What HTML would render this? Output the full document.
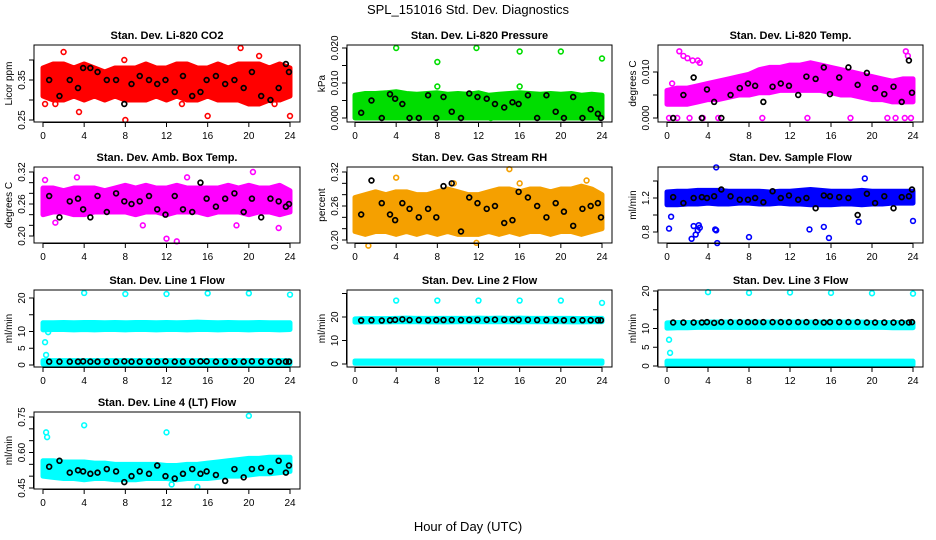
<!DOCTYPE html>
<html><head><meta charset="utf-8"><style>
html,body{margin:0;padding:0;background:#fff}
svg{display:block;font-family:"Liberation Sans",sans-serif}
</style></head><body>
<svg id="chart" width="936" height="540" viewBox="0 0 936 540">
<rect width="936" height="540" fill="#fff"/>
<text x="468" y="14" text-anchor="middle" font-size="13">SPL_151016  Std. Dev. Diagnostics</text>
<text x="468" y="531" text-anchor="middle" font-size="13">Hour of Day (UTC)</text>
</svg>
<script>
// ---------- data ----------
const hours = [0,1,2,3,4,5,6,7,8,9,10,11,12,13,14,15,16,17,18,19,20,21,22,23,24];
const blackX = [0.6,1.6,2.6,3.4,3.9,4.6,5.3,6.2,7.1,7.9,8.6,9.4,10.3,11.1,11.9,12.8,13.6,14.5,15.3,15.9,16.8,17.7,18.6,19.5,20.3,21.2,22.1,22.9,23.6,23.9];
const xTicks = [0,4,8,12,16,20,24];

const co2Lo = [0.31,0.30,0.30,0.31,0.30,0.31,0.30,0.31,0.30,0.30,0.30,0.31,0.30,0.31,0.30,0.30,0.31,0.30,0.30,0.30,0.29,0.29,0.30,0.30,0.31];
const co2Hi = [0.38,0.39,0.39,0.38,0.39,0.38,0.37,0.38,0.38,0.38,0.39,0.38,0.38,0.39,0.39,0.38,0.38,0.39,0.38,0.39,0.39,0.39,0.38,0.39,0.38];
const co2Black = [0.35,0.31,0.35,0.33,0.38,0.38,0.37,0.35,0.35,0.29,0.34,0.36,0.35,0.34,0.35,0.32,0.36,0.31,0.32,0.35,0.36,0.34,0.35,0.33,0.37,0.31,0.30,0.33,0.39,0.37];
const co2OutX = [2,8,3.5,16,24,21,19.2,0.2,7.9,1.2,13.5,22.5];
const co2OutY = [0.42,0.25,0.27,0.26,0.26,0.41,0.43,0.29,0.40,0.29,0.29,0.29];

const presLo = [0,0,0,0,0,0,0,0,0,0,0,0,0,0,0,0,0,0,0,0,0,0,0,0,0];
const presHi = [0.0065,0.007,0.007,0.0072,0.0075,0.007,0.0068,0.007,0.0072,0.0068,0.007,0.0068,0.0072,0.0065,0.0068,0.007,0.0072,0.007,0.0068,0.007,0.0068,0.007,0.0065,0.0068,0.0065];
const presBlack = [0.0015,0.005,0.0,0.0068,0.0055,0.004,0.0,0.0,0.0065,0.0,0.006,0.0018,0.0,0.007,0.006,0.0055,0.004,0.003,0.0045,0.004,0.0065,0.0,0.0065,0.0018,0.0,0.006,0.0,0.0025,0.0012,0.0];
const presOutX = [4,8,11.8,16,20,24,8,16,13.2];
const presOutY = [0.020,0.016,0.020,0.019,0.019,0.017,0.009,0.009,0.0];

const tempLo = [0.003,0.003,0.003,0.0035,0.004,0.004,0.0045,0.005,0.005,0.0055,0.0055,0.006,0.006,0.006,0.006,0.006,0.0055,0.005,0.005,0.0045,0.004,0.004,0.0035,0.0035,0.0035];
const tempHi = [0.006,0.0065,0.0065,0.007,0.0075,0.008,0.0085,0.009,0.0095,0.0105,0.011,0.011,0.0115,0.0115,0.012,0.0115,0.011,0.0105,0.01,0.0095,0.009,0.0085,0.008,0.0085,0.0085];
const tempBlack = [0.0,0.005,0.0088,0.0,0.0062,0.0035,0.0,0.005,0.0065,0.0075,0.007,0.0035,0.0068,0.0075,0.007,0.005,0.009,0.0085,0.011,0.0052,0.0088,0.011,0.0072,0.0098,0.0065,0.0052,0.0068,0.0035,0.0125,0.0055];
const tempOutX = [0.5,1.2,1.6,2.0,2.5,3.0,3.2,0.2,1.0,2.2,3.5,5.0,9.3,13.7,17.9,21.5,22.3,23.2,23.5,23.8,23.3];
const tempOutY = [0.0075,0.0145,0.0135,0.013,0.0125,0.0125,0.012,0.0,0.0,0.0,0.0,0.0,0.0,0.0,0.0,0.0,0.0,0.0,0.0135,0.0,0.0145];

const ambLo = [0.24,0.245,0.245,0.24,0.24,0.245,0.245,0.245,0.245,0.24,0.245,0.245,0.24,0.245,0.245,0.245,0.24,0.245,0.245,0.245,0.24,0.245,0.245,0.24,0.245];
const ambHi = [0.29,0.29,0.285,0.29,0.29,0.29,0.285,0.29,0.295,0.29,0.295,0.29,0.29,0.295,0.29,0.29,0.29,0.29,0.295,0.29,0.295,0.29,0.29,0.295,0.285];
const ambBlack = [0.275,0.235,0.265,0.27,0.25,0.235,0.275,0.245,0.28,0.265,0.26,0.265,0.275,0.25,0.24,0.275,0.25,0.245,0.3,0.27,0.255,0.27,0.28,0.245,0.27,0.235,0.27,0.265,0.255,0.26];
const ambOutX = [12,13,3.3,20.4,1.2,9.7,22.9,0.2,18.8,14.0];
const ambOutY = [0.195,0.19,0.31,0.32,0.225,0.22,0.215,0.305,0.22,0.31];

const rhLo = [0.215,0.21,0.215,0.215,0.21,0.215,0.21,0.215,0.21,0.215,0.21,0.21,0.21,0.215,0.21,0.215,0.21,0.215,0.215,0.21,0.215,0.215,0.21,0.215,0.22];
const rhHi = [0.275,0.28,0.285,0.28,0.285,0.285,0.28,0.28,0.285,0.29,0.285,0.28,0.28,0.285,0.29,0.29,0.285,0.29,0.29,0.285,0.29,0.29,0.295,0.29,0.28];
const rhBlack = [0.245,0.305,0.265,0.245,0.235,0.265,0.255,0.24,0.255,0.24,0.295,0.3,0.215,0.275,0.265,0.255,0.26,0.23,0.235,0.285,0.275,0.26,0.24,0.265,0.25,0.225,0.255,0.26,0.265,0.24];
const rhOutX = [4,15,11.8,16,22.5,1.3,9.6];
const rhOutY = [0.31,0.325,0.195,0.3,0.305,0.19,0.3];

const flowLo = [1.12,1.12,1.13,1.13,1.14,1.13,1.13,1.14,1.14,1.13,1.13,1.14,1.13,1.13,1.12,1.12,1.12,1.13,1.13,1.12,1.13,1.13,1.14,1.14,1.14];
const flowHi = [1.27,1.28,1.28,1.29,1.29,1.29,1.28,1.28,1.28,1.28,1.27,1.28,1.28,1.29,1.30,1.29,1.28,1.28,1.28,1.29,1.28,1.28,1.28,1.28,1.28];
const flowBlack = [1.21,1.14,1.2,1.21,1.2,1.22,1.3,1.22,1.18,1.18,1.2,1.15,1.28,1.2,1.23,1.18,1.2,1.08,1.23,1.22,1.21,1.2,1.0,1.25,1.14,1.22,1.08,1.21,1.22,1.3];
const flowOutX = [0.2,0.4,2.4,2.6,2.8,3.0,3.1,3.2,4.7,4.8,4.9,8.0,13.9,15.3,15.8,18.7,19.3,24,4.8];
const flowOutY = [0.84,0.98,0.72,0.87,0.77,0.82,0.88,0.85,0.83,0.82,0.67,0.74,0.83,0.86,0.73,0.92,1.43,0.93,1.56];

const l1Lo = [10.5,10.6,10.6,10.5,10.6,10.5,10.6,10.6,10.5,10.6,10.6,10.5,10.6,10.6,10.5,10.6,10.6,10.5,10.6,10.6,10.5,10.6,10.6,10.5,10.6];
const l1Hi = [12.6,12.6,12.7,12.6,12.7,12.7,12.6,12.7,12.6,12.7,12.7,12.6,12.7,12.6,12.7,12.8,12.7,12.6,12.7,12.6,12.6,12.7,12.6,12.6,12.6];
const l1Black = [1.0,1.0,1.0,1.0,1.1,1.0,1.0,1.0,1.0,1.1,1.0,1.0,1.0,1.0,1.1,1.0,1.0,1.0,1.1,1.1,1.0,1.0,1.0,1.0,1.1,1.0,1.0,1.0,1.0,1.0];
const l1OutX = [4,8,12,16,20,24,0.2,0.3,0.5,0.1];
const l1OutY = [21.5,21.2,21.2,21.4,21.4,21.0,6.8,3.0,9.8,11.0];

const l2Lo = [17.8,17.9,17.9,17.9,18.0,18.0,18.0,17.9,18.0,17.9,18.0,18.0,18.0,18.0,18.0,18.0,17.9,18.0,18.0,18.0,18.0,17.9,17.9,18.0,18.0];
const l2Hi = [19.2,19.3,19.3,19.3,19.4,19.5,19.4,19.4,19.4,19.4,19.4,19.4,19.5,19.4,19.5,19.4,19.5,19.4,19.4,19.4,19.4,19.4,19.3,19.4,19.4];
const l2Black = [18.5,18.6,18.5,18.6,18.8,19.0,18.7,18.7,18.6,18.7,18.7,18.7,18.7,18.8,18.8,18.8,18.9,18.8,18.8,18.8,18.8,18.7,18.7,18.6,18.6,18.7,18.6,18.6,18.6,18.6];
const l2OutX = [4,8,12,16,20,24];
const l2OutY = [27,27,27,27,27,26];

const l3Lo = [10.1,10.2,10.2,10.3,10.3,10.3,10.3,10.3,10.3,10.3,10.3,10.3,10.3,10.3,10.3,10.3,10.3,10.3,10.3,10.3,10.3,10.3,10.2,10.2,10.2];
const l3Hi = [11.5,11.6,11.6,11.6,11.7,11.7,11.7,11.7,11.7,11.7,11.7,11.7,11.7,11.7,11.7,11.7,11.7,11.7,11.7,11.7,11.6,11.6,11.6,11.6,11.6];
const l3Black = [11.6,11.6,11.6,11.6,11.7,11.5,11.7,11.7,11.7,11.7,11.7,11.7,11.7,11.7,11.7,11.7,11.7,11.7,11.6,11.7,11.7,11.7,11.7,11.6,11.6,11.6,11.6,11.6,11.6,11.7];
const l3OutX = [4,8,12,16,20,24,0.2,0.3,0.1];
const l3OutY = [19.7,19.5,19.6,19.5,19.4,19.3,7.0,3.5,10.3];

const l4Lo = [0.50,0.495,0.49,0.49,0.485,0.49,0.49,0.485,0.485,0.485,0.49,0.49,0.49,0.485,0.49,0.49,0.49,0.495,0.5,0.5,0.505,0.51,0.51,0.515,0.52];
const l4Hi = [0.565,0.565,0.56,0.56,0.56,0.555,0.555,0.55,0.55,0.55,0.55,0.55,0.545,0.545,0.55,0.55,0.555,0.56,0.565,0.57,0.575,0.575,0.58,0.58,0.58];
const l4Black = [0.54,0.565,0.515,0.525,0.52,0.51,0.515,0.53,0.52,0.475,0.5,0.52,0.51,0.545,0.5,0.49,0.51,0.53,0.51,0.52,0.505,0.48,0.53,0.495,0.53,0.535,0.52,0.565,0.515,0.545];
const l4OutX = [0.3,0.4,4,12,20,15,12.5];
const l4OutY = [0.685,0.665,0.715,0.685,0.755,0.455,0.465];

// ---------- drawing ----------
const NS = "http://www.w3.org/2000/svg";
const svg = document.getElementById("chart");
function mk(tag, attrs, parent){
  const e = document.createElementNS(NS, tag);
  for (const k in attrs) e.setAttribute(k, attrs[k]);
  (parent || svg).appendChild(e);
  return e;
}
function panel(p){
  const g = mk("g", {});
  
  
  const xs = h => p.x0 + (h/24)*(p.x24 - p.x0);
  const ys = v => p.yb + (v - p.vb)*(p.yt - p.yb)/(p.vt - p.vb);
  const t = mk("text", {x:(p.L+p.R)/2, y:p.T-6, "text-anchor":"middle", "font-size":"11", "font-weight":"bold"}, g);
  t.textContent = p.title;
  
  
  p.bands.forEach(b => {
    let pts = hours.map((h,i)=>xs(h)+","+ys(b.hi[i])).concat(hours.slice().reverse().map((h,j)=>xs(h)+","+ys(b.lo[hours.length-1-j])));
    const poly = mk("polygon", {points:pts.join(" "), fill:p.color, stroke:p.color, "stroke-width":"5", "stroke-linejoin":"round"}, g);
    
    
  });
  p.outX.forEach((x,i)=>{
    const c = mk("circle", {cx:xs(x), cy:ys(p.outY[i]), r:2.4, fill:"none", stroke:p.color, "stroke-width":"1.6"}, g);
    
    
  });
  blackX.forEach((x,i)=>{
    const c = mk("circle", {cx:xs(x), cy:ys(p.black[i]), r:2.4, fill:"none", stroke:"#000", "stroke-width":"1.7"}, g);
    
    
  });
  const bx = mk("rect", {x:p.L, y:p.T, width:p.R-p.L, height:p.B-p.T, fill:"none", stroke:"#000", "stroke-width":"1"}, g);
  
  
  mk("line", {x1:xs(0), x2:xs(24), y1:p.B+0.5, y2:p.B+0.5, stroke:"#000"}, g);
  xTicks.forEach(h=>{
    mk("line", {x1:xs(h), x2:xs(h), y1:p.B, y2:p.B+5, stroke:"#000"}, g);
    const tl = mk("text", {x:xs(h), y:p.B+17, "text-anchor":"middle", "font-size":"10"}, g);
    tl.textContent = h;
    
    
  });
  const y0 = ys(p.yticks[0]), y1 = ys(p.yticks[p.yticks.length-1]);
  mk("line", {x1:p.L-0.5, x2:p.L-0.5, y1:y0, y2:y1, stroke:"#000"}, g);
  p.yticks.forEach(v=>{
    mk("line", {x1:p.L-5, x2:p.L, y1:ys(v), y2:ys(v), stroke:"#000"}, g);
  });
  p.ylabels.forEach(v=>{
    const yy = ys(v);
    const tl = mk("text", {x:p.L-9, y:yy, "text-anchor":"middle", "font-size":"10", transform:`rotate(-90 ${p.L-9} ${yy})`}, g);
    tl.textContent = v.toFixed(p.dec);
    
    
  });
  const yt = mk("text", {x:p.L-22, y:(p.T+p.B)/2, "text-anchor":"middle", "font-size":"10", transform:`rotate(-90 ${p.L-22} ${(p.T+p.B)/2})`}, g);
  yt.textContent = p.ytitle;
  
  
}
const C1={L:34,R:300,x0:43,x24:290}, C2={L:347,R:612,x0:355,x24:602}, C3={L:658,R:923,x0:667,x24:913};
const R1={T:45,B:122}, R2={T:167,B:243}, R3={T:290,B:367}, R4={T:412,B:489};
const P = (c,r,o)=>Object.assign({},c,r,o);
panel(P(C1,R1,{name:"panel-co2",title:"Stan. Dev. Li-820 CO2",ytitle:"Licor ppm",color:"#ff0000",yb:120,vb:0.25,yt:80,vt:0.35,yticks:[0.25,0.30,0.35,0.40],ylabels:[0.25,0.35],dec:2,bands:[{lo:co2Lo,hi:co2Hi}],black:co2Black,outX:co2OutX,outY:co2OutY}));
panel(P(C2,R1,{name:"panel-pressure",title:"Stan. Dev. Li-820 Pressure",ytitle:"kPa",color:"#00dd00",yb:118,vb:0,yt:48,vt:0.02,yticks:[0,0.005,0.01,0.015,0.02],ylabels:[0,0.01,0.02],dec:3,bands:[{lo:presLo,hi:presHi}],black:presBlack,outX:presOutX,outY:presOutY}));
panel(P(C3,R1,{name:"panel-li820-temp",title:"Stan. Dev. Li-820 Temp.",ytitle:"degrees C",color:"#ff00ff",yb:118,vb:0,yt:72,vt:0.01,yticks:[0,0.005,0.01],ylabels:[0,0.01],dec:3,bands:[{lo:tempLo,hi:tempHi}],black:tempBlack,outX:tempOutX,outY:tempOutY}));
panel(P(C1,R2,{name:"panel-amb-box-temp",title:"Stan. Dev. Amb. Box Temp.",ytitle:"degrees C",color:"#ff00ff",yb:236,vb:0.20,yt:172,vt:0.32,yticks:[0.20,0.22,0.24,0.26,0.28,0.30,0.32],ylabels:[0.20,0.26,0.32],dec:2,bands:[{lo:ambLo,hi:ambHi}],black:ambBlack,outX:ambOutX,outY:ambOutY}));
panel(P(C2,R2,{name:"panel-gas-rh",title:"Stan. Dev. Gas Stream RH",ytitle:"percent",color:"#f5a000",yb:240,vb:0.20,yt:172,vt:0.32,yticks:[0.20,0.22,0.24,0.26,0.28,0.30,0.32],ylabels:[0.20,0.26,0.32],dec:2,bands:[{lo:rhLo,hi:rhHi}],black:rhBlack,outX:rhOutX,outY:rhOutY}));
panel(P(C3,R2,{name:"panel-sample-flow",title:"Stan. Dev. Sample Flow",ytitle:"ml/min",color:"#0000ff",yb:232,vb:0.8,yt:198,vt:1.2,yticks:[0.8,1.0,1.2,1.4],ylabels:[0.8,1.2],dec:1,bands:[{lo:flowLo,hi:flowHi}],black:flowBlack,outX:flowOutX,outY:flowOutY}));
const low = hours.map(()=>0.3), lowHi = hours.map(()=>1.3);
panel(P(C1,R3,{name:"panel-line1-flow",title:"Stan. Dev. Line 1 Flow",ytitle:"ml/min",color:"#00ffff",yb:365,vb:0,yt:298,vt:20,yticks:[0,5,10,15,20],ylabels:[0,5,10,20],dec:0,bands:[{lo:l1Lo,hi:l1Hi},{lo:low,hi:lowHi}],black:l1Black,outX:l1OutX,outY:l1OutY}));
panel(P(C2,R3,{name:"panel-line2-flow",title:"Stan. Dev. Line 2 Flow",ytitle:"ml/min",color:"#00ffff",yb:364,vb:0,yt:317,vt:20,yticks:[0,10,20,30],ylabels:[0,10,20],dec:0,bands:[{lo:l2Lo,hi:l2Hi},{lo:low,hi:lowHi}],black:l2Black,outX:l2OutX,outY:l2OutY}));
panel(P(C3,R3,{name:"panel-line3-flow",title:"Stan. Dev. Line 3 Flow",ytitle:"ml/min",color:"#00ffff",yb:366,vb:0,yt:291,vt:20,yticks:[0,5,10,15,20],ylabels:[0,5,10,20],dec:0,bands:[{lo:l3Lo,hi:l3Hi},{lo:low,hi:lowHi}],black:l3Black,outX:l3OutX,outY:l3OutY}));
panel(P(C1,R4,{name:"panel-line4-flow",title:"Stan. Dev. Line 4 (LT) Flow",ytitle:"ml/min",color:"#00ffff",yb:488,vb:0.45,yt:417,vt:0.75,yticks:[0.45,0.50,0.55,0.60,0.65,0.70,0.75],ylabels:[0.45,0.60,0.75],dec:2,bands:[{lo:l4Lo,hi:l4Hi}],black:l4Black,outX:l4OutX,outY:l4OutY}));
</script>
</body></html>
